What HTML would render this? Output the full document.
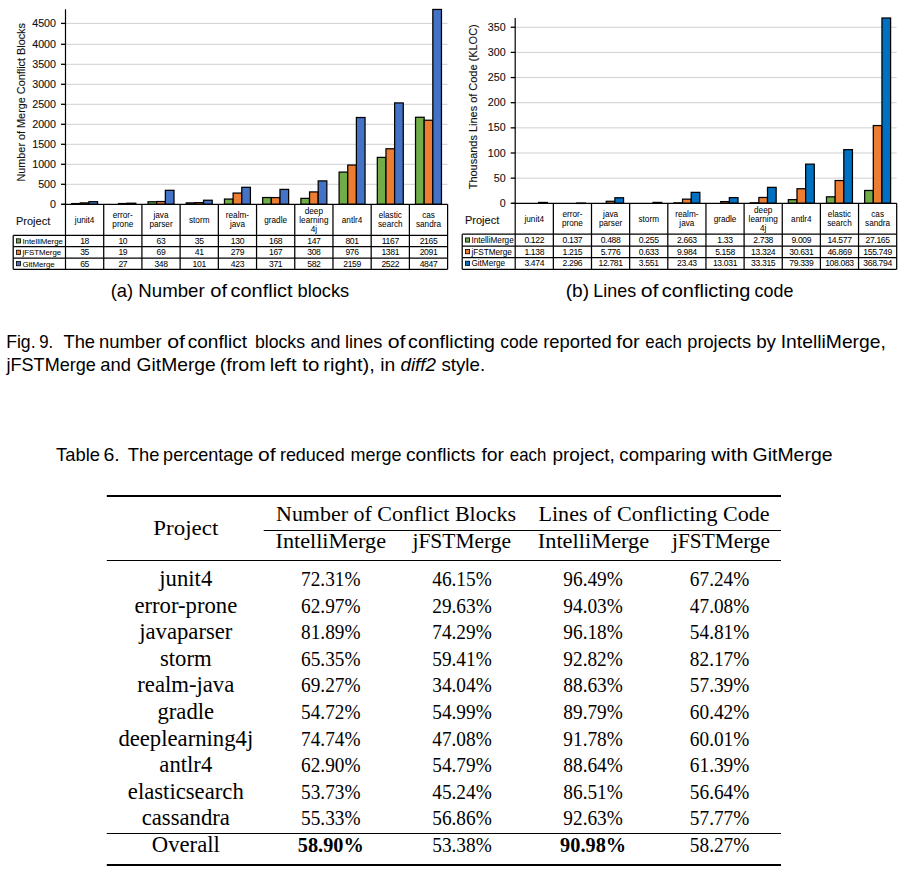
<!DOCTYPE html>
<html><head><meta charset="utf-8"><style>
html,body{margin:0;padding:0;background:#fff;}
body{width:912px;height:871px;overflow:hidden;position:relative;}
svg{position:absolute;left:0;top:0;}
.ax{font-family:"Liberation Sans",sans-serif;font-size:10.7px;fill:#111;stroke:#111;stroke-width:0.12px;}
.proj{font-family:"Liberation Sans",sans-serif;font-size:11px;fill:#111;stroke:#111;stroke-width:0.12px;}
.cat{font-family:"Liberation Sans",sans-serif;font-size:8.2px;fill:#000;stroke:#000;stroke-width:0.03px;}
.leg{font-family:"Liberation Sans",sans-serif;font-size:8.2px;fill:#000;stroke:#000;stroke-width:0.03px;}
.val{font-family:"Liberation Sans",sans-serif;font-size:8.6px;letter-spacing:-0.35px;fill:#000;stroke:#000;stroke-width:0.03px;}
.tb{font-family:"Liberation Serif",serif;font-size:22px;fill:#000;}
.cap{font-family:"Liberation Sans",sans-serif;font-size:17.8px;fill:#000;}
</style></head><body>
<svg width="912" height="871" viewBox="0 0 912 871">
<line x1="65.5" y1="184.30" x2="447.6" y2="184.30" stroke="#D0D0D0" stroke-width="1"/>
<line x1="65.5" y1="164.30" x2="447.6" y2="164.30" stroke="#D0D0D0" stroke-width="1"/>
<line x1="65.5" y1="144.30" x2="447.6" y2="144.30" stroke="#D0D0D0" stroke-width="1"/>
<line x1="65.5" y1="124.30" x2="447.6" y2="124.30" stroke="#D0D0D0" stroke-width="1"/>
<line x1="65.5" y1="104.30" x2="447.6" y2="104.30" stroke="#D0D0D0" stroke-width="1"/>
<line x1="65.5" y1="84.30" x2="447.6" y2="84.30" stroke="#D0D0D0" stroke-width="1"/>
<line x1="65.5" y1="64.30" x2="447.6" y2="64.30" stroke="#D0D0D0" stroke-width="1"/>
<line x1="65.5" y1="44.30" x2="447.6" y2="44.30" stroke="#D0D0D0" stroke-width="1"/>
<line x1="65.5" y1="23.40" x2="447.6" y2="23.40" stroke="#D0D0D0" stroke-width="1"/>
<line x1="61.0" y1="204.30" x2="65.5" y2="204.30" stroke="#000" stroke-width="1.3"/>
<text x="56.0" y="207.90" text-anchor="end" class="ax">0</text>
<line x1="61.0" y1="184.30" x2="65.5" y2="184.30" stroke="#000" stroke-width="1.3"/>
<text x="56.0" y="187.90" text-anchor="end" class="ax">500</text>
<line x1="61.0" y1="164.30" x2="65.5" y2="164.30" stroke="#000" stroke-width="1.3"/>
<text x="56.0" y="167.90" text-anchor="end" class="ax">1000</text>
<line x1="61.0" y1="144.30" x2="65.5" y2="144.30" stroke="#000" stroke-width="1.3"/>
<text x="56.0" y="147.90" text-anchor="end" class="ax">1500</text>
<line x1="61.0" y1="124.30" x2="65.5" y2="124.30" stroke="#000" stroke-width="1.3"/>
<text x="56.0" y="127.90" text-anchor="end" class="ax">2000</text>
<line x1="61.0" y1="104.30" x2="65.5" y2="104.30" stroke="#000" stroke-width="1.3"/>
<text x="56.0" y="107.90" text-anchor="end" class="ax">2500</text>
<line x1="61.0" y1="84.30" x2="65.5" y2="84.30" stroke="#000" stroke-width="1.3"/>
<text x="56.0" y="87.90" text-anchor="end" class="ax">3000</text>
<line x1="61.0" y1="64.30" x2="65.5" y2="64.30" stroke="#000" stroke-width="1.3"/>
<text x="56.0" y="67.90" text-anchor="end" class="ax">3500</text>
<line x1="61.0" y1="44.30" x2="65.5" y2="44.30" stroke="#000" stroke-width="1.3"/>
<text x="56.0" y="47.90" text-anchor="end" class="ax">4000</text>
<line x1="61.0" y1="23.40" x2="65.5" y2="23.40" stroke="#000" stroke-width="1.3"/>
<text x="56.0" y="27.00" text-anchor="end" class="ax">4500</text>
<text transform="translate(24.7,102.3) rotate(-90)" text-anchor="middle" class="ax" textLength="158.5" lengthAdjust="spacingAndGlyphs">Number of Merge Conflict Blocks</text>
<rect x="71.63" y="203.58" width="8.65" height="0.72" fill="#70AD47" stroke="#000" stroke-width="1.25"/>
<rect x="80.28" y="202.89" width="8.65" height="1.41" fill="#ED7D31" stroke="#000" stroke-width="1.25"/>
<rect x="88.93" y="201.69" width="8.65" height="2.61" fill="#4472C4" stroke="#000" stroke-width="1.25"/>
<rect x="118.49" y="203.54" width="8.65" height="0.76" fill="#ED7D31" stroke="#000" stroke-width="1.25"/>
<rect x="127.14" y="203.21" width="8.65" height="1.09" fill="#4472C4" stroke="#000" stroke-width="1.25"/>
<rect x="148.05" y="201.77" width="8.65" height="2.53" fill="#70AD47" stroke="#000" stroke-width="1.25"/>
<rect x="156.70" y="201.53" width="8.65" height="2.77" fill="#ED7D31" stroke="#000" stroke-width="1.25"/>
<rect x="165.35" y="190.31" width="8.65" height="13.99" fill="#4472C4" stroke="#000" stroke-width="1.25"/>
<rect x="186.26" y="202.89" width="8.65" height="1.41" fill="#70AD47" stroke="#000" stroke-width="1.25"/>
<rect x="194.91" y="202.65" width="8.65" height="1.65" fill="#ED7D31" stroke="#000" stroke-width="1.25"/>
<rect x="203.56" y="200.24" width="8.65" height="4.06" fill="#4472C4" stroke="#000" stroke-width="1.25"/>
<rect x="224.47" y="199.07" width="8.65" height="5.23" fill="#70AD47" stroke="#000" stroke-width="1.25"/>
<rect x="233.12" y="193.08" width="8.65" height="11.22" fill="#ED7D31" stroke="#000" stroke-width="1.25"/>
<rect x="241.77" y="187.30" width="8.65" height="17.00" fill="#4472C4" stroke="#000" stroke-width="1.25"/>
<rect x="262.68" y="197.55" width="8.65" height="6.75" fill="#70AD47" stroke="#000" stroke-width="1.25"/>
<rect x="271.33" y="197.59" width="8.65" height="6.71" fill="#ED7D31" stroke="#000" stroke-width="1.25"/>
<rect x="279.98" y="189.39" width="8.65" height="14.91" fill="#4472C4" stroke="#000" stroke-width="1.25"/>
<rect x="300.89" y="198.39" width="8.65" height="5.91" fill="#70AD47" stroke="#000" stroke-width="1.25"/>
<rect x="309.54" y="191.92" width="8.65" height="12.38" fill="#ED7D31" stroke="#000" stroke-width="1.25"/>
<rect x="318.19" y="180.90" width="8.65" height="23.40" fill="#4472C4" stroke="#000" stroke-width="1.25"/>
<rect x="339.10" y="172.10" width="8.65" height="32.20" fill="#70AD47" stroke="#000" stroke-width="1.25"/>
<rect x="347.75" y="165.06" width="8.65" height="39.24" fill="#ED7D31" stroke="#000" stroke-width="1.25"/>
<rect x="356.40" y="117.51" width="8.65" height="86.79" fill="#4472C4" stroke="#000" stroke-width="1.25"/>
<rect x="377.31" y="157.39" width="8.65" height="46.91" fill="#70AD47" stroke="#000" stroke-width="1.25"/>
<rect x="385.96" y="148.78" width="8.65" height="55.52" fill="#ED7D31" stroke="#000" stroke-width="1.25"/>
<rect x="394.61" y="102.92" width="8.65" height="101.38" fill="#4472C4" stroke="#000" stroke-width="1.25"/>
<rect x="415.52" y="117.27" width="8.65" height="87.03" fill="#70AD47" stroke="#000" stroke-width="1.25"/>
<rect x="424.17" y="120.24" width="8.65" height="84.06" fill="#ED7D31" stroke="#000" stroke-width="1.25"/>
<rect x="432.82" y="9.45" width="8.65" height="194.85" fill="#4472C4" stroke="#000" stroke-width="1.25"/>
<line x1="65.5" y1="9.2" x2="65.5" y2="269.3" stroke="#000" stroke-width="1.2"/>
<line x1="62.0" y1="204.3" x2="447.6" y2="204.3" stroke="#000" stroke-width="1.2"/>
<line x1="13.2" y1="235.4" x2="447.6" y2="235.4" stroke="#000" stroke-width="1.25"/>
<line x1="13.2" y1="246.6" x2="447.6" y2="246.6" stroke="#000" stroke-width="1.25"/>
<line x1="13.2" y1="258.2" x2="447.6" y2="258.2" stroke="#000" stroke-width="1.25"/>
<line x1="13.2" y1="269.3" x2="447.6" y2="269.3" stroke="#000" stroke-width="1.25"/>
<line x1="13.2" y1="235.4" x2="13.2" y2="269.3" stroke="#000" stroke-width="1.25"/>
<line x1="103.71" y1="204.3" x2="103.71" y2="269.3" stroke="#000" stroke-width="1.25"/>
<line x1="141.92" y1="204.3" x2="141.92" y2="269.3" stroke="#000" stroke-width="1.25"/>
<line x1="180.13" y1="204.3" x2="180.13" y2="269.3" stroke="#000" stroke-width="1.25"/>
<line x1="218.34" y1="204.3" x2="218.34" y2="269.3" stroke="#000" stroke-width="1.25"/>
<line x1="256.55" y1="204.3" x2="256.55" y2="269.3" stroke="#000" stroke-width="1.25"/>
<line x1="294.76" y1="204.3" x2="294.76" y2="269.3" stroke="#000" stroke-width="1.25"/>
<line x1="332.97" y1="204.3" x2="332.97" y2="269.3" stroke="#000" stroke-width="1.25"/>
<line x1="371.18" y1="204.3" x2="371.18" y2="269.3" stroke="#000" stroke-width="1.25"/>
<line x1="409.39" y1="204.3" x2="409.39" y2="269.3" stroke="#000" stroke-width="1.25"/>
<line x1="447.60" y1="204.3" x2="447.60" y2="269.3" stroke="#000" stroke-width="1.25"/>
<text x="16.0" y="224.5" class="proj">Project</text>
<text x="84.61" y="222.75" text-anchor="middle" class="cat">junit4</text>
<text x="122.81" y="218.25" text-anchor="middle" class="cat">error-</text>
<text x="122.81" y="227.25" text-anchor="middle" class="cat">prone</text>
<text x="161.03" y="218.25" text-anchor="middle" class="cat">java</text>
<text x="161.03" y="227.25" text-anchor="middle" class="cat">parser</text>
<text x="199.24" y="222.75" text-anchor="middle" class="cat">storm</text>
<text x="237.44" y="218.25" text-anchor="middle" class="cat">realm-</text>
<text x="237.44" y="227.25" text-anchor="middle" class="cat">java</text>
<text x="275.65" y="222.75" text-anchor="middle" class="cat">gradle</text>
<text x="313.87" y="213.75" text-anchor="middle" class="cat">deep</text>
<text x="313.87" y="222.75" text-anchor="middle" class="cat">learning</text>
<text x="313.87" y="231.75" text-anchor="middle" class="cat">4j</text>
<text x="352.07" y="222.75" text-anchor="middle" class="cat">antlr4</text>
<text x="390.29" y="218.25" text-anchor="middle" class="cat">elastic</text>
<text x="390.29" y="227.25" text-anchor="middle" class="cat">search</text>
<text x="428.50" y="218.25" text-anchor="middle" class="cat">cas</text>
<text x="428.50" y="227.25" text-anchor="middle" class="cat">sandra</text>
<rect x="16.4" y="238.80" width="4.2" height="4.2" fill="#70AD47" stroke="#000" stroke-width="0.8"/>
<text x="22.4" y="243.90" class="leg" style="font-size:7.85px">IntelliMerge</text>
<text x="84.61" y="243.90" text-anchor="middle" class="val">18</text>
<text x="122.81" y="243.90" text-anchor="middle" class="val">10</text>
<text x="161.03" y="243.90" text-anchor="middle" class="val">63</text>
<text x="199.24" y="243.90" text-anchor="middle" class="val">35</text>
<text x="237.44" y="243.90" text-anchor="middle" class="val">130</text>
<text x="275.65" y="243.90" text-anchor="middle" class="val">168</text>
<text x="313.87" y="243.90" text-anchor="middle" class="val">147</text>
<text x="352.07" y="243.90" text-anchor="middle" class="val">801</text>
<text x="390.29" y="243.90" text-anchor="middle" class="val">1167</text>
<text x="428.50" y="243.90" text-anchor="middle" class="val">2165</text>
<rect x="16.4" y="250.20" width="4.2" height="4.2" fill="#ED7D31" stroke="#000" stroke-width="0.8"/>
<text x="22.4" y="255.30" class="leg" style="font-size:7.85px">jFSTMerge</text>
<text x="84.61" y="255.30" text-anchor="middle" class="val">35</text>
<text x="122.81" y="255.30" text-anchor="middle" class="val">19</text>
<text x="161.03" y="255.30" text-anchor="middle" class="val">69</text>
<text x="199.24" y="255.30" text-anchor="middle" class="val">41</text>
<text x="237.44" y="255.30" text-anchor="middle" class="val">279</text>
<text x="275.65" y="255.30" text-anchor="middle" class="val">167</text>
<text x="313.87" y="255.30" text-anchor="middle" class="val">308</text>
<text x="352.07" y="255.30" text-anchor="middle" class="val">976</text>
<text x="390.29" y="255.30" text-anchor="middle" class="val">1381</text>
<text x="428.50" y="255.30" text-anchor="middle" class="val">2091</text>
<rect x="16.4" y="261.55" width="4.2" height="4.2" fill="#4472C4" stroke="#000" stroke-width="0.8"/>
<text x="22.4" y="266.65" class="leg" style="font-size:7.85px">GitMerge</text>
<text x="84.61" y="266.65" text-anchor="middle" class="val">65</text>
<text x="122.81" y="266.65" text-anchor="middle" class="val">27</text>
<text x="161.03" y="266.65" text-anchor="middle" class="val">348</text>
<text x="199.24" y="266.65" text-anchor="middle" class="val">101</text>
<text x="237.44" y="266.65" text-anchor="middle" class="val">423</text>
<text x="275.65" y="266.65" text-anchor="middle" class="val">371</text>
<text x="313.87" y="266.65" text-anchor="middle" class="val">582</text>
<text x="352.07" y="266.65" text-anchor="middle" class="val">2159</text>
<text x="390.29" y="266.65" text-anchor="middle" class="val">2522</text>
<text x="428.50" y="266.65" text-anchor="middle" class="val">4847</text>
<line x1="515.2" y1="178.15" x2="896.7" y2="178.15" stroke="#D0D0D0" stroke-width="1"/>
<line x1="515.2" y1="153.00" x2="896.7" y2="153.00" stroke="#D0D0D0" stroke-width="1"/>
<line x1="515.2" y1="127.85" x2="896.7" y2="127.85" stroke="#D0D0D0" stroke-width="1"/>
<line x1="515.2" y1="102.70" x2="896.7" y2="102.70" stroke="#D0D0D0" stroke-width="1"/>
<line x1="515.2" y1="77.55" x2="896.7" y2="77.55" stroke="#D0D0D0" stroke-width="1"/>
<line x1="515.2" y1="52.40" x2="896.7" y2="52.40" stroke="#D0D0D0" stroke-width="1"/>
<line x1="515.2" y1="27.25" x2="896.7" y2="27.25" stroke="#D0D0D0" stroke-width="1"/>
<line x1="510.70000000000005" y1="203.30" x2="515.2" y2="203.30" stroke="#000" stroke-width="1.3"/>
<text x="505.70000000000005" y="206.90" text-anchor="end" class="ax">0</text>
<line x1="510.70000000000005" y1="178.15" x2="515.2" y2="178.15" stroke="#000" stroke-width="1.3"/>
<text x="505.70000000000005" y="181.75" text-anchor="end" class="ax">50</text>
<line x1="510.70000000000005" y1="153.00" x2="515.2" y2="153.00" stroke="#000" stroke-width="1.3"/>
<text x="505.70000000000005" y="156.60" text-anchor="end" class="ax">100</text>
<line x1="510.70000000000005" y1="127.85" x2="515.2" y2="127.85" stroke="#000" stroke-width="1.3"/>
<text x="505.70000000000005" y="131.45" text-anchor="end" class="ax">150</text>
<line x1="510.70000000000005" y1="102.70" x2="515.2" y2="102.70" stroke="#000" stroke-width="1.3"/>
<text x="505.70000000000005" y="106.30" text-anchor="end" class="ax">200</text>
<line x1="510.70000000000005" y1="77.55" x2="515.2" y2="77.55" stroke="#000" stroke-width="1.3"/>
<text x="505.70000000000005" y="81.15" text-anchor="end" class="ax">250</text>
<line x1="510.70000000000005" y1="52.40" x2="515.2" y2="52.40" stroke="#000" stroke-width="1.3"/>
<text x="505.70000000000005" y="56.00" text-anchor="end" class="ax">300</text>
<line x1="510.70000000000005" y1="27.25" x2="515.2" y2="27.25" stroke="#000" stroke-width="1.3"/>
<text x="505.70000000000005" y="30.85" text-anchor="end" class="ax">350</text>
<text transform="translate(476.6,106.8) rotate(-90)" text-anchor="middle" class="ax" textLength="165" lengthAdjust="spacingAndGlyphs">Thousands Lines of Code (KLOC)</text>
<rect x="538.60" y="202.45" width="8.65" height="0.85" fill="#0070C0" stroke="#000" stroke-width="1.25"/>
<rect x="576.75" y="203.04" width="8.65" height="0.40" fill="#0070C0" stroke="#000" stroke-width="1.25"/>
<rect x="606.25" y="201.28" width="8.65" height="2.02" fill="#ED7D31" stroke="#000" stroke-width="1.25"/>
<rect x="614.90" y="197.75" width="8.65" height="5.55" fill="#0070C0" stroke="#000" stroke-width="1.25"/>
<rect x="653.05" y="202.41" width="8.65" height="0.89" fill="#0070C0" stroke="#000" stroke-width="1.25"/>
<rect x="673.90" y="202.86" width="8.65" height="0.44" fill="#70AD47" stroke="#000" stroke-width="1.25"/>
<rect x="682.55" y="199.16" width="8.65" height="4.14" fill="#ED7D31" stroke="#000" stroke-width="1.25"/>
<rect x="691.20" y="192.37" width="8.65" height="10.93" fill="#0070C0" stroke="#000" stroke-width="1.25"/>
<rect x="720.70" y="201.60" width="8.65" height="1.70" fill="#ED7D31" stroke="#000" stroke-width="1.25"/>
<rect x="729.35" y="197.62" width="8.65" height="5.68" fill="#0070C0" stroke="#000" stroke-width="1.25"/>
<rect x="750.20" y="202.82" width="8.65" height="0.48" fill="#70AD47" stroke="#000" stroke-width="1.25"/>
<rect x="758.85" y="197.47" width="8.65" height="5.83" fill="#ED7D31" stroke="#000" stroke-width="1.25"/>
<rect x="767.50" y="187.38" width="8.65" height="15.92" fill="#0070C0" stroke="#000" stroke-width="1.25"/>
<rect x="788.35" y="199.65" width="8.65" height="3.65" fill="#70AD47" stroke="#000" stroke-width="1.25"/>
<rect x="797.00" y="188.73" width="8.65" height="14.57" fill="#ED7D31" stroke="#000" stroke-width="1.25"/>
<rect x="805.65" y="164.14" width="8.65" height="39.16" fill="#0070C0" stroke="#000" stroke-width="1.25"/>
<rect x="826.50" y="196.84" width="8.65" height="6.46" fill="#70AD47" stroke="#000" stroke-width="1.25"/>
<rect x="835.15" y="180.54" width="8.65" height="22.76" fill="#ED7D31" stroke="#000" stroke-width="1.25"/>
<rect x="843.80" y="149.63" width="8.65" height="53.67" fill="#0070C0" stroke="#000" stroke-width="1.25"/>
<rect x="864.65" y="190.48" width="8.65" height="12.82" fill="#70AD47" stroke="#000" stroke-width="1.25"/>
<rect x="873.30" y="125.56" width="8.65" height="77.74" fill="#ED7D31" stroke="#000" stroke-width="1.25"/>
<rect x="881.95" y="18.00" width="8.65" height="185.30" fill="#0070C0" stroke="#000" stroke-width="1.25"/>
<line x1="515.2" y1="18.1" x2="515.2" y2="269.3" stroke="#000" stroke-width="1.2"/>
<line x1="511.70000000000005" y1="203.3" x2="896.7" y2="203.3" stroke="#000" stroke-width="1.2"/>
<line x1="462.2" y1="234.2" x2="896.7" y2="234.2" stroke="#000" stroke-width="1.25"/>
<line x1="462.2" y1="246.0" x2="896.7" y2="246.0" stroke="#000" stroke-width="1.25"/>
<line x1="462.2" y1="257.5" x2="896.7" y2="257.5" stroke="#000" stroke-width="1.25"/>
<line x1="462.2" y1="269.3" x2="896.7" y2="269.3" stroke="#000" stroke-width="1.25"/>
<line x1="462.2" y1="234.2" x2="462.2" y2="269.3" stroke="#000" stroke-width="1.25"/>
<line x1="553.35" y1="203.3" x2="553.35" y2="269.3" stroke="#000" stroke-width="1.25"/>
<line x1="591.50" y1="203.3" x2="591.50" y2="269.3" stroke="#000" stroke-width="1.25"/>
<line x1="629.65" y1="203.3" x2="629.65" y2="269.3" stroke="#000" stroke-width="1.25"/>
<line x1="667.80" y1="203.3" x2="667.80" y2="269.3" stroke="#000" stroke-width="1.25"/>
<line x1="705.95" y1="203.3" x2="705.95" y2="269.3" stroke="#000" stroke-width="1.25"/>
<line x1="744.10" y1="203.3" x2="744.10" y2="269.3" stroke="#000" stroke-width="1.25"/>
<line x1="782.25" y1="203.3" x2="782.25" y2="269.3" stroke="#000" stroke-width="1.25"/>
<line x1="820.40" y1="203.3" x2="820.40" y2="269.3" stroke="#000" stroke-width="1.25"/>
<line x1="858.55" y1="203.3" x2="858.55" y2="269.3" stroke="#000" stroke-width="1.25"/>
<line x1="896.70" y1="203.3" x2="896.70" y2="269.3" stroke="#000" stroke-width="1.25"/>
<text x="465.0" y="223.5" class="proj">Project</text>
<text x="534.28" y="221.65" text-anchor="middle" class="cat">junit4</text>
<text x="572.43" y="217.15" text-anchor="middle" class="cat">error-</text>
<text x="572.43" y="226.15" text-anchor="middle" class="cat">prone</text>
<text x="610.58" y="217.15" text-anchor="middle" class="cat">java</text>
<text x="610.58" y="226.15" text-anchor="middle" class="cat">parser</text>
<text x="648.73" y="221.65" text-anchor="middle" class="cat">storm</text>
<text x="686.88" y="217.15" text-anchor="middle" class="cat">realm-</text>
<text x="686.88" y="226.15" text-anchor="middle" class="cat">java</text>
<text x="725.03" y="221.65" text-anchor="middle" class="cat">gradle</text>
<text x="763.18" y="212.65" text-anchor="middle" class="cat">deep</text>
<text x="763.18" y="221.65" text-anchor="middle" class="cat">learning</text>
<text x="763.18" y="230.65" text-anchor="middle" class="cat">4j</text>
<text x="801.33" y="221.65" text-anchor="middle" class="cat">antlr4</text>
<text x="839.48" y="217.15" text-anchor="middle" class="cat">elastic</text>
<text x="839.48" y="226.15" text-anchor="middle" class="cat">search</text>
<text x="877.62" y="217.15" text-anchor="middle" class="cat">cas</text>
<text x="877.62" y="226.15" text-anchor="middle" class="cat">sandra</text>
<rect x="465.4" y="237.90" width="4.2" height="4.2" fill="#70AD47" stroke="#000" stroke-width="0.8"/>
<text x="471.4" y="243.00" class="leg" style="font-size:8.2px">IntelliMerge</text>
<text x="534.28" y="243.00" text-anchor="middle" class="val">0.122</text>
<text x="572.43" y="243.00" text-anchor="middle" class="val">0.137</text>
<text x="610.58" y="243.00" text-anchor="middle" class="val">0.488</text>
<text x="648.73" y="243.00" text-anchor="middle" class="val">0.255</text>
<text x="686.88" y="243.00" text-anchor="middle" class="val">2.663</text>
<text x="725.03" y="243.00" text-anchor="middle" class="val">1.33</text>
<text x="763.18" y="243.00" text-anchor="middle" class="val">2.738</text>
<text x="801.33" y="243.00" text-anchor="middle" class="val">9.009</text>
<text x="839.48" y="243.00" text-anchor="middle" class="val">14.577</text>
<text x="877.62" y="243.00" text-anchor="middle" class="val">27.165</text>
<rect x="465.4" y="249.55" width="4.2" height="4.2" fill="#ED7D31" stroke="#000" stroke-width="0.8"/>
<text x="471.4" y="254.65" class="leg" style="font-size:8.2px">jFSTMerge</text>
<text x="534.28" y="254.65" text-anchor="middle" class="val">1.138</text>
<text x="572.43" y="254.65" text-anchor="middle" class="val">1.215</text>
<text x="610.58" y="254.65" text-anchor="middle" class="val">5.776</text>
<text x="648.73" y="254.65" text-anchor="middle" class="val">0.633</text>
<text x="686.88" y="254.65" text-anchor="middle" class="val">9.984</text>
<text x="725.03" y="254.65" text-anchor="middle" class="val">5.158</text>
<text x="763.18" y="254.65" text-anchor="middle" class="val">13.324</text>
<text x="801.33" y="254.65" text-anchor="middle" class="val">30.631</text>
<text x="839.48" y="254.65" text-anchor="middle" class="val">46.869</text>
<text x="877.62" y="254.65" text-anchor="middle" class="val">155.749</text>
<rect x="465.4" y="261.20" width="4.2" height="4.2" fill="#0070C0" stroke="#000" stroke-width="0.8"/>
<text x="471.4" y="266.30" class="leg" style="font-size:8.2px">GitMerge</text>
<text x="534.28" y="266.30" text-anchor="middle" class="val">3.474</text>
<text x="572.43" y="266.30" text-anchor="middle" class="val">2.296</text>
<text x="610.58" y="266.30" text-anchor="middle" class="val">12.781</text>
<text x="648.73" y="266.30" text-anchor="middle" class="val">3.551</text>
<text x="686.88" y="266.30" text-anchor="middle" class="val">23.43</text>
<text x="725.03" y="266.30" text-anchor="middle" class="val">13.031</text>
<text x="763.18" y="266.30" text-anchor="middle" class="val">33.315</text>
<text x="801.33" y="266.30" text-anchor="middle" class="val">79.339</text>
<text x="839.48" y="266.30" text-anchor="middle" class="val">108.083</text>
<text x="877.62" y="266.30" text-anchor="middle" class="val">368.794</text>
<text x="110.7" y="297.1" class="cap" textLength="22.48" lengthAdjust="spacingAndGlyphs">(a)</text>
<text x="138.31" y="297.1" class="cap" textLength="66.33" lengthAdjust="spacingAndGlyphs">Number</text>
<text x="210.39" y="297.1" class="cap" textLength="16.87" lengthAdjust="spacingAndGlyphs">of</text>
<text x="230.6" y="297.1" class="cap" textLength="61.95" lengthAdjust="spacingAndGlyphs">conflict</text>
<text x="297.5" y="297.1" class="cap" textLength="51.74" lengthAdjust="spacingAndGlyphs">blocks</text>
<text x="565.65" y="297.1" class="cap" textLength="23.36" lengthAdjust="spacingAndGlyphs">(b)</text>
<text x="593.37" y="297.1" class="cap" textLength="42.77" lengthAdjust="spacingAndGlyphs">Lines</text>
<text x="640.75" y="297.1" class="cap" textLength="17.81" lengthAdjust="spacingAndGlyphs">of</text>
<text x="661.8" y="297.1" class="cap" textLength="88.62" lengthAdjust="spacingAndGlyphs">conflicting</text>
<text x="754.58" y="297.1" class="cap" textLength="38.76" lengthAdjust="spacingAndGlyphs">code</text>
<text x="6.19" y="347.8" class="cap" textLength="29.36" lengthAdjust="spacingAndGlyphs">Fig.</text>
<text x="39.23" y="347.8" class="cap" textLength="14.05" lengthAdjust="spacingAndGlyphs">9.</text>
<text x="63.43" y="347.8" class="cap" textLength="31.63" lengthAdjust="spacingAndGlyphs">The</text>
<text x="98.99" y="347.8" class="cap" textLength="62.55" lengthAdjust="spacingAndGlyphs">number</text>
<text x="167.25" y="347.8" class="cap" textLength="17.81" lengthAdjust="spacingAndGlyphs">of</text>
<text x="187.74" y="347.8" class="cap" textLength="59.32" lengthAdjust="spacingAndGlyphs">conflict</text>
<text x="254.94" y="347.8" class="cap" textLength="50.09" lengthAdjust="spacingAndGlyphs">blocks</text>
<text x="310.59" y="347.8" class="cap" textLength="29.71" lengthAdjust="spacingAndGlyphs">and</text>
<text x="345.01" y="347.8" class="cap" textLength="37.33" lengthAdjust="spacingAndGlyphs">lines</text>
<text x="387.65" y="347.8" class="cap" textLength="17.81" lengthAdjust="spacingAndGlyphs">of</text>
<text x="408.12" y="347.8" class="cap" textLength="86.88" lengthAdjust="spacingAndGlyphs">conflicting</text>
<text x="500.3" y="347.8" class="cap" textLength="37.83" lengthAdjust="spacingAndGlyphs">code</text>
<text x="543.2" y="347.8" class="cap" textLength="68.43" lengthAdjust="spacingAndGlyphs">reported</text>
<text x="616.3" y="347.8" class="cap" textLength="23.46" lengthAdjust="spacingAndGlyphs">for</text>
<text x="645.33" y="347.8" class="cap" textLength="36.41" lengthAdjust="spacingAndGlyphs">each</text>
<text x="687.31" y="347.8" class="cap" textLength="63.74" lengthAdjust="spacingAndGlyphs">projects</text>
<text x="756.17" y="347.8" class="cap" textLength="19.83" lengthAdjust="spacingAndGlyphs">by</text>
<text x="780.76" y="347.8" class="cap" textLength="105.13" lengthAdjust="spacingAndGlyphs">IntelliMerge,</text>
<text x="6.54" y="371.2" class="cap" textLength="89.31" lengthAdjust="spacingAndGlyphs">jFSTMerge</text>
<text x="100.36" y="371.2" class="cap" textLength="30.67" lengthAdjust="spacingAndGlyphs">and</text>
<text x="136.64" y="371.2" class="cap" textLength="79.06" lengthAdjust="spacingAndGlyphs">GitMerge</text>
<text x="219.72" y="371.2" class="cap" textLength="45.82" lengthAdjust="spacingAndGlyphs">(from</text>
<text x="269.8" y="371.2" class="cap" textLength="26.66" lengthAdjust="spacingAndGlyphs">left</text>
<text x="302.3" y="371.2" class="cap" textLength="17.04" lengthAdjust="spacingAndGlyphs">to</text>
<text x="323.39" y="371.2" class="cap" textLength="51.37" lengthAdjust="spacingAndGlyphs">right),</text>
<text x="380.34" y="371.2" class="cap" textLength="15.05" lengthAdjust="spacingAndGlyphs">in</text>
<text x="400.44" y="371.2" class="cap" style="font-style:italic" textLength="35.58" lengthAdjust="spacingAndGlyphs">diff2</text>
<text x="441.43" y="371.2" class="cap" textLength="43.72" lengthAdjust="spacingAndGlyphs">style.</text>
<text x="56.13" y="460.7" class="cap" textLength="43.83" lengthAdjust="spacingAndGlyphs">Table</text>
<text x="103.42" y="460.7" class="cap" textLength="16.29" lengthAdjust="spacingAndGlyphs">6.</text>
<text x="127.83" y="460.7" class="cap" textLength="31.63" lengthAdjust="spacingAndGlyphs">The</text>
<text x="163.12" y="460.7" class="cap" textLength="90.13" lengthAdjust="spacingAndGlyphs">percentage</text>
<text x="257.96" y="460.7" class="cap" textLength="17.6" lengthAdjust="spacingAndGlyphs">of</text>
<text x="279.92" y="460.7" class="cap" textLength="64.89" lengthAdjust="spacingAndGlyphs">reduced</text>
<text x="350.42" y="460.7" class="cap" textLength="51.03" lengthAdjust="spacingAndGlyphs">merge</text>
<text x="406.03" y="460.7" class="cap" textLength="69.34" lengthAdjust="spacingAndGlyphs">conflicts</text>
<text x="481.41" y="460.7" class="cap" textLength="22.54" lengthAdjust="spacingAndGlyphs">for</text>
<text x="509.83" y="460.7" class="cap" textLength="36.41" lengthAdjust="spacingAndGlyphs">each</text>
<text x="552.46" y="460.7" class="cap" textLength="62.31" lengthAdjust="spacingAndGlyphs">project,</text>
<text x="619.36" y="460.7" class="cap" textLength="86.79" lengthAdjust="spacingAndGlyphs">comparing</text>
<text x="711.21" y="460.7" class="cap" textLength="36.65" lengthAdjust="spacingAndGlyphs">with</text>
<text x="752.63" y="460.7" class="cap" textLength="79.87" lengthAdjust="spacingAndGlyphs">GitMerge</text>
<rect x="106.8" y="495" width="674.2" height="2" fill="#000"/>
<rect x="263.7" y="530" width="517.3" height="1" fill="#000"/>
<rect x="106.8" y="560" width="674.2" height="1" fill="#000"/>
<rect x="106.8" y="833" width="674.2" height="1" fill="#000"/>
<rect x="106.8" y="864" width="674.2" height="2" fill="#000"/>
<text x="185.8" y="535" text-anchor="middle" class="tb" textLength="65" lengthAdjust="spacingAndGlyphs">Project</text>
<text x="396" y="520.7" text-anchor="middle" class="tb" textLength="240" lengthAdjust="spacingAndGlyphs">Number of Conflict Blocks</text>
<text x="654" y="520.7" text-anchor="middle" class="tb" textLength="231" lengthAdjust="spacingAndGlyphs">Lines of Conflicting Code</text>
<text x="330.8" y="548.3" text-anchor="middle" class="tb" textLength="110.5" lengthAdjust="spacingAndGlyphs">IntelliMerge</text>
<text x="461.8" y="548.3" text-anchor="middle" class="tb" textLength="98.7" lengthAdjust="spacingAndGlyphs">jFSTMerge</text>
<text x="593.5" y="548.3" text-anchor="middle" class="tb" textLength="111.5" lengthAdjust="spacingAndGlyphs">IntelliMerge</text>
<text x="721" y="548.3" text-anchor="middle" class="tb" textLength="98" lengthAdjust="spacingAndGlyphs">jFSTMerge</text>
<text x="185.8" y="586.00" text-anchor="middle" class="tb" style="font-size:22.7px">junit4</text>
<text x="330.8" y="586.00" text-anchor="middle" class="tb" textLength="59.5" lengthAdjust="spacingAndGlyphs">72.31%</text>
<text x="462.0" y="586.00" text-anchor="middle" class="tb" textLength="59.5" lengthAdjust="spacingAndGlyphs">46.15%</text>
<text x="593.1" y="586.00" text-anchor="middle" class="tb" textLength="59.5" lengthAdjust="spacingAndGlyphs">96.49%</text>
<text x="719.6" y="586.00" text-anchor="middle" class="tb" textLength="59.5" lengthAdjust="spacingAndGlyphs">67.24%</text>
<text x="185.8" y="612.60" text-anchor="middle" class="tb" style="font-size:22.7px">error-prone</text>
<text x="330.8" y="612.60" text-anchor="middle" class="tb" textLength="59.5" lengthAdjust="spacingAndGlyphs">62.97%</text>
<text x="462.0" y="612.60" text-anchor="middle" class="tb" textLength="59.5" lengthAdjust="spacingAndGlyphs">29.63%</text>
<text x="593.1" y="612.60" text-anchor="middle" class="tb" textLength="59.5" lengthAdjust="spacingAndGlyphs">94.03%</text>
<text x="719.6" y="612.60" text-anchor="middle" class="tb" textLength="59.5" lengthAdjust="spacingAndGlyphs">47.08%</text>
<text x="185.8" y="639.20" text-anchor="middle" class="tb" style="font-size:22.7px">javaparser</text>
<text x="330.8" y="639.20" text-anchor="middle" class="tb" textLength="59.5" lengthAdjust="spacingAndGlyphs">81.89%</text>
<text x="462.0" y="639.20" text-anchor="middle" class="tb" textLength="59.5" lengthAdjust="spacingAndGlyphs">74.29%</text>
<text x="593.1" y="639.20" text-anchor="middle" class="tb" textLength="59.5" lengthAdjust="spacingAndGlyphs">96.18%</text>
<text x="719.6" y="639.20" text-anchor="middle" class="tb" textLength="59.5" lengthAdjust="spacingAndGlyphs">54.81%</text>
<text x="185.8" y="665.80" text-anchor="middle" class="tb" style="font-size:22.7px">storm</text>
<text x="330.8" y="665.80" text-anchor="middle" class="tb" textLength="59.5" lengthAdjust="spacingAndGlyphs">65.35%</text>
<text x="462.0" y="665.80" text-anchor="middle" class="tb" textLength="59.5" lengthAdjust="spacingAndGlyphs">59.41%</text>
<text x="593.1" y="665.80" text-anchor="middle" class="tb" textLength="59.5" lengthAdjust="spacingAndGlyphs">92.82%</text>
<text x="719.6" y="665.80" text-anchor="middle" class="tb" textLength="59.5" lengthAdjust="spacingAndGlyphs">82.17%</text>
<text x="185.8" y="692.40" text-anchor="middle" class="tb" style="font-size:22.7px">realm-java</text>
<text x="330.8" y="692.40" text-anchor="middle" class="tb" textLength="59.5" lengthAdjust="spacingAndGlyphs">69.27%</text>
<text x="462.0" y="692.40" text-anchor="middle" class="tb" textLength="59.5" lengthAdjust="spacingAndGlyphs">34.04%</text>
<text x="593.1" y="692.40" text-anchor="middle" class="tb" textLength="59.5" lengthAdjust="spacingAndGlyphs">88.63%</text>
<text x="719.6" y="692.40" text-anchor="middle" class="tb" textLength="59.5" lengthAdjust="spacingAndGlyphs">57.39%</text>
<text x="185.8" y="719.00" text-anchor="middle" class="tb" style="font-size:22.7px">gradle</text>
<text x="330.8" y="719.00" text-anchor="middle" class="tb" textLength="59.5" lengthAdjust="spacingAndGlyphs">54.72%</text>
<text x="462.0" y="719.00" text-anchor="middle" class="tb" textLength="59.5" lengthAdjust="spacingAndGlyphs">54.99%</text>
<text x="593.1" y="719.00" text-anchor="middle" class="tb" textLength="59.5" lengthAdjust="spacingAndGlyphs">89.79%</text>
<text x="719.6" y="719.00" text-anchor="middle" class="tb" textLength="59.5" lengthAdjust="spacingAndGlyphs">60.42%</text>
<text x="185.8" y="745.60" text-anchor="middle" class="tb" style="font-size:22.7px">deeplearning4j</text>
<text x="330.8" y="745.60" text-anchor="middle" class="tb" textLength="59.5" lengthAdjust="spacingAndGlyphs">74.74%</text>
<text x="462.0" y="745.60" text-anchor="middle" class="tb" textLength="59.5" lengthAdjust="spacingAndGlyphs">47.08%</text>
<text x="593.1" y="745.60" text-anchor="middle" class="tb" textLength="59.5" lengthAdjust="spacingAndGlyphs">91.78%</text>
<text x="719.6" y="745.60" text-anchor="middle" class="tb" textLength="59.5" lengthAdjust="spacingAndGlyphs">60.01%</text>
<text x="185.8" y="772.20" text-anchor="middle" class="tb" style="font-size:22.7px">antlr4</text>
<text x="330.8" y="772.20" text-anchor="middle" class="tb" textLength="59.5" lengthAdjust="spacingAndGlyphs">62.90%</text>
<text x="462.0" y="772.20" text-anchor="middle" class="tb" textLength="59.5" lengthAdjust="spacingAndGlyphs">54.79%</text>
<text x="593.1" y="772.20" text-anchor="middle" class="tb" textLength="59.5" lengthAdjust="spacingAndGlyphs">88.64%</text>
<text x="719.6" y="772.20" text-anchor="middle" class="tb" textLength="59.5" lengthAdjust="spacingAndGlyphs">61.39%</text>
<text x="185.8" y="798.80" text-anchor="middle" class="tb" style="font-size:22.7px">elasticsearch</text>
<text x="330.8" y="798.80" text-anchor="middle" class="tb" textLength="59.5" lengthAdjust="spacingAndGlyphs">53.73%</text>
<text x="462.0" y="798.80" text-anchor="middle" class="tb" textLength="59.5" lengthAdjust="spacingAndGlyphs">45.24%</text>
<text x="593.1" y="798.80" text-anchor="middle" class="tb" textLength="59.5" lengthAdjust="spacingAndGlyphs">86.51%</text>
<text x="719.6" y="798.80" text-anchor="middle" class="tb" textLength="59.5" lengthAdjust="spacingAndGlyphs">56.64%</text>
<text x="185.8" y="825.40" text-anchor="middle" class="tb" style="font-size:22.7px">cassandra</text>
<text x="330.8" y="825.40" text-anchor="middle" class="tb" textLength="59.5" lengthAdjust="spacingAndGlyphs">55.33%</text>
<text x="462.0" y="825.40" text-anchor="middle" class="tb" textLength="59.5" lengthAdjust="spacingAndGlyphs">56.86%</text>
<text x="593.1" y="825.40" text-anchor="middle" class="tb" textLength="59.5" lengthAdjust="spacingAndGlyphs">92.63%</text>
<text x="719.6" y="825.40" text-anchor="middle" class="tb" textLength="59.5" lengthAdjust="spacingAndGlyphs">57.77%</text>
<text x="185.8" y="852" text-anchor="middle" class="tb" style="font-size:22.7px">Overall</text>
<text x="330.8" y="852" text-anchor="middle" class="tb" font-weight="bold" textLength="66" lengthAdjust="spacingAndGlyphs">58.90%</text>
<text x="462.0" y="852" text-anchor="middle" class="tb" textLength="59.5" lengthAdjust="spacingAndGlyphs">53.38%</text>
<text x="593.1" y="852" text-anchor="middle" class="tb" font-weight="bold" textLength="66" lengthAdjust="spacingAndGlyphs">90.98%</text>
<text x="719.6" y="852" text-anchor="middle" class="tb" textLength="59.5" lengthAdjust="spacingAndGlyphs">58.27%</text>
</svg>
</body></html>
